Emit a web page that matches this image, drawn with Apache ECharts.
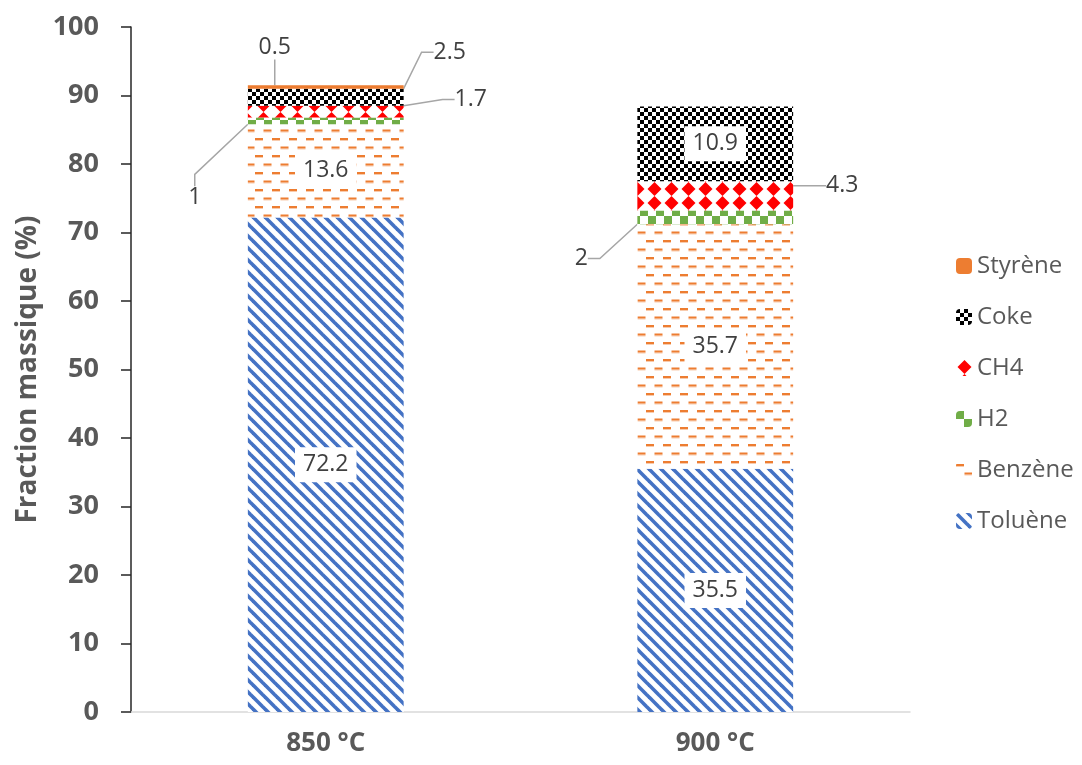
<!DOCTYPE html>
<html>
<head>
	<meta charset="UTF-8">
	<title>Fraction massique</title>
	<style>
		html, body { margin: 0; padding: 0; background: #fff; }
		#chart { width: 1082px; height: 765px; }
	</style>
</head>
<body>
	<div id="chart"></div>
	<script src="https://cdn.jsdelivr.net/npm/echarts@6/dist/echarts.min.js"></script>
	<script type="text/javascript">
		// categories and values
		var temperatures = ['850 °C', '900 °C'];
		var seriesNames = ['Toluène', 'Benzène', 'H2', 'CH4', 'Coke', 'Styrène'];
		var toluene = [72.2, 35.5];
		var benzene = [13.6, 35.7];
		var h2 = [1, 2];
		var ch4 = [1.7, 4.3];
		var coke = [2.5, 10.9];
		var styrene = [0.5, 0];
		var yTicks = [0, 100, 10]; // min, max, interval

		var values = [toluene, benzene, h2, ch4, coke, styrene];

		// labels drawn outside the bar with a leader line: [dx, dy] from segment centre
		var outsideLabels = {
			'Styrène': { 0: [-51, -39] },
			'Coke': { 0: [124, -45] },
			'CH4': { 0: [145, -12], 1: [127, -10] },
			'H2': { 0: [-131, 77], 1: [-134, 41] }
		};

		function makeTile(w, h, draw) {
			var c = document.createElement('canvas');
			c.width = w;
			c.height = h;
			var ctx = c.getContext('2d');
			ctx.fillStyle = '#fff';
			ctx.fillRect(0, 0, w, h);
			draw(ctx);
			return { image: c, repeat: 'repeat' };
		}

		var fills = {
			'Toluène': makeTile(12, 12, function(ctx) {
				ctx.strokeStyle = '#4472C4';
				ctx.lineWidth = 3.6;
				[-12, 0, 12].forEach(function(o) {
					ctx.beginPath();
					ctx.moveTo(o - 2, -2);
					ctx.lineTo(o + 14, 14);
					ctx.stroke();
				});
			}),
			'Benzène': makeTile(17, 17, function(ctx) {
				ctx.fillStyle = '#F8CBAD';
				ctx.fillRect(0, 4, 8, 1);
				ctx.fillRect(8.5, 12.5, 8, 1);
				ctx.fillRect(-8.5, 12.5, 8, 1);
				ctx.fillStyle = '#ED7D31';
				ctx.fillRect(0, 2, 8, 2);
				ctx.fillRect(8.5, 10.5, 8, 2);
				ctx.fillRect(-8.5, 10.5, 8, 2);
			}),
			'H2': makeTile(16, 16, function(ctx) {
				ctx.fillStyle = '#70AD47';
				ctx.fillRect(0, 0, 8, 8);
				ctx.fillRect(8, 8, 8, 8);
			}),
			'CH4': makeTile(17, 14, function(ctx) {
				ctx.fillStyle = '#FF0000';
				ctx.beginPath();
				ctx.moveTo(8.5, 0);
				ctx.lineTo(15.5, 7);
				ctx.lineTo(8.5, 14);
				ctx.lineTo(1.5, 7);
				ctx.closePath();
				ctx.fill();
			}),
			'Coke': makeTile(8, 8, function(ctx) {
				ctx.fillStyle = '#000';
				ctx.fillRect(0, 0, 4, 4);
				ctx.fillRect(4, 4, 4, 4);
			}),
			'Styrène': '#ED7D31'
		};

		var labelFont = 'Open Sans';
		var textGrey = '#595959';

		var series = seriesNames.map(function(name, si) {
			var outside = outsideLabels[name] || {};
			return {
				name: name,
				type: 'bar',
				stack: 'total',
				barWidth: '40%',
				itemStyle: { color: fills[name] },
				emphasis: { disabled: true },
				data: values[si].map(function(v, i) {
					var item = { value: v };
					if (v === 0) {
						item.label = { show: false };
					} else if (outside[i]) {
						item.label = {
							show: true,
							position: 'inside',
							color: '#404040',
							fontFamily: labelFont,
							fontSize: 23,
							backgroundColor: 'transparent'
						};
						item.labelLine = {
							show: true,
							length2: 12,
							lineStyle: { color: '#A6A6A6', width: 1.5 }
						};
					} else {
						item.label = {
							show: true,
							position: 'inside',
							color: '#404040',
							fontFamily: labelFont,
							fontSize: 23,
							backgroundColor: '#fff',
							padding: [6, 8]
						};
					}
					return item;
				}),
				labelLayout: function(params) {
					var off = outside[params.dataIndex];
					if (!off) return {};
					return { dx: off[0], dy: off[1] };
				}
			};
		});

		var myChart = echarts.init(document.getElementById('chart'));

		var option = {
			animation: false,
			grid: { left: 131, right: 172, top: 27, bottom: 53 },
			legend: {
				orient: 'vertical',
				left: 951,
				top: 246,
				itemWidth: 16,
				itemHeight: 16,
				itemGap: 21,
				data: seriesNames.slice().reverse(),
				textStyle: { color: textGrey, fontFamily: labelFont, fontSize: 24, lineHeight: 30 }
			},
			xAxis: {
				type: 'category',
				data: temperatures,
				axisLine: { lineStyle: { color: '#D9D9D9', width: 1.5 } },
				axisTick: { show: false },
				axisLabel: {
					color: textGrey,
					fontFamily: labelFont,
					fontWeight: 'bold',
					fontSize: 26,
					margin: 19
				}
			},
			yAxis: {
				type: 'value',
				min: yTicks[0],
				max: yTicks[1],
				interval: yTicks[2],
				name: 'Fraction massique (%)',
				nameLocation: 'middle',
				nameGap: 88,
				nameTextStyle: {
					color: textGrey,
					fontFamily: labelFont,
					fontWeight: 'bold',
					fontSize: 28
				},
				axisLine: { show: true, lineStyle: { color: '#262626', width: 1.5 } },
				axisTick: { show: true, length: 10, lineStyle: { color: '#262626', width: 1.5 } },
				splitLine: { show: false },
				axisLabel: {
					color: textGrey,
					fontFamily: labelFont,
					fontWeight: 'bold',
					fontSize: 27,
					margin: 32
				}
			},
			series: series
		};

		myChart.setOption(option);
	</script>
</body>
</html>
